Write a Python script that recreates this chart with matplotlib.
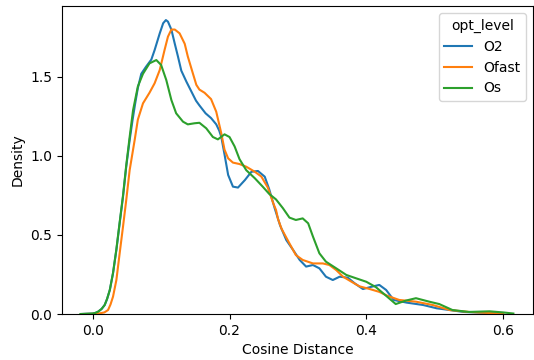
import matplotlib
matplotlib.use("Agg")
import matplotlib.pyplot as plt

# Cosine distance grid values and density values
o2_x = [-0.016, 0.0, 0.004, 0.008, 0.013, 0.0175, 0.021, 0.025, 0.0297, 0.0346, 0.0394, 0.0443,
        0.049, 0.054, 0.058, 0.062, 0.066, 0.071, 0.078, 0.0857, 0.0905, 0.098, 0.103, 0.107,
        0.11, 0.115, 0.12, 0.1246, 0.1295, 0.137, 0.144, 0.151, 0.156, 0.165, 0.173, 0.1806,
        0.185, 0.188, 0.1927, 0.198, 0.205, 0.2124, 0.2226, 0.232, 0.2416, 0.2515, 0.258,
        0.266, 0.274, 0.283, 0.293, 0.3026, 0.312, 0.322, 0.3314, 0.341, 0.351, 0.361, 0.373,
        0.383, 0.395, 0.41, 0.419, 0.429, 0.44, 0.459, 0.483, 0.503, 0.522, 0.542, 0.57, 0.6]
o2_y = [0.0, 0.003, 0.007, 0.015, 0.032, 0.057, 0.095, 0.152, 0.258, 0.405, 0.574, 0.742,
        0.932, 1.10, 1.22, 1.33, 1.43, 1.52, 1.565, 1.61, 1.67, 1.776, 1.84, 1.86,
        1.85, 1.80, 1.71, 1.63, 1.54, 1.47, 1.41, 1.35, 1.32, 1.27, 1.24, 1.20,
        1.16, 1.12, 1.01, 0.88, 0.806, 0.80, 0.848, 0.90, 0.905, 0.869, 0.79,
        0.67, 0.56, 0.468, 0.405, 0.342, 0.30, 0.31, 0.289, 0.236, 0.215, 0.236, 0.230,
        0.194, 0.158, 0.175, 0.184, 0.152, 0.089, 0.072, 0.057, 0.036, 0.025, 0.013, 0.008, 0.002]

ofast_x = [-0.012, 0.0, 0.01, 0.017, 0.0224, 0.026, 0.0297, 0.0346, 0.0394, 0.0443, 0.049,
           0.054, 0.0613, 0.066, 0.0735, 0.083, 0.0905, 0.098, 0.105, 0.11, 0.115,
           0.12, 0.127, 0.1345, 0.139, 0.1466, 0.1515, 0.156, 0.1635, 0.173, 0.1806, 0.188,
           0.1927, 0.198, 0.205, 0.2146, 0.2245, 0.237, 0.2465, 0.256, 0.264, 0.268, 0.271,
           0.276, 0.2876, 0.297, 0.307, 0.322, 0.3365, 0.346, 0.356, 0.366, 0.378, 0.39, 0.405,
           0.419, 0.431, 0.448, 0.4726, 0.497, 0.522, 0.55, 0.58, 0.6]
ofast_y = [0.0, 0.001, 0.004, 0.01, 0.025, 0.06, 0.11, 0.215, 0.384, 0.553, 0.72,
           0.91, 1.10, 1.23, 1.333, 1.40, 1.46, 1.544, 1.67, 1.755, 1.80,
           1.80, 1.776, 1.71, 1.63, 1.52, 1.45, 1.42, 1.40, 1.36, 1.28, 1.143,
           1.04, 0.985, 0.958, 0.949, 0.932, 0.90, 0.87, 0.80, 0.70, 0.658, 0.60,
           0.54, 0.447, 0.373, 0.342, 0.32, 0.32, 0.31, 0.278, 0.236, 0.205, 0.175, 0.158,
           0.14, 0.115, 0.089, 0.078, 0.057, 0.025, 0.013, 0.006, 0.002]

os_x = [-0.018, 0.0, 0.004, 0.008, 0.013, 0.0175, 0.021, 0.025, 0.0297, 0.0346, 0.0394, 0.0443,
        0.049, 0.054, 0.059, 0.066, 0.0735, 0.083, 0.093, 0.1, 0.1076, 0.115, 0.122, 0.132,
        0.139, 0.149, 0.156, 0.166, 0.1757, 0.183, 0.1927, 0.2, 0.2075, 0.2146, 0.2245, 0.237,
        0.2485, 0.258, 0.268, 0.278, 0.2876, 0.297, 0.307, 0.315, 0.322, 0.3314, 0.341, 0.356,
        0.3708, 0.385, 0.40, 0.414, 0.429, 0.443, 0.458, 0.4726, 0.492, 0.5066, 0.526, 0.55,
        0.58, 0.6, 0.615]
os_y = [0.0, 0.003, 0.007, 0.015, 0.032, 0.057, 0.095, 0.152, 0.26, 0.41, 0.58, 0.75,
        0.94, 1.12, 1.29, 1.44, 1.52, 1.586, 1.607, 1.576, 1.48, 1.354, 1.27, 1.217,
        1.20, 1.207, 1.21, 1.175, 1.12, 1.105, 1.137, 1.12, 1.06, 0.98, 0.91, 0.859,
        0.806, 0.76, 0.725, 0.67, 0.61, 0.595, 0.605, 0.574, 0.49, 0.384, 0.331, 0.289,
        0.247, 0.226, 0.204, 0.17, 0.115, 0.063, 0.085, 0.10, 0.078, 0.063, 0.025, 0.013,
        0.017, 0.01, 0.003]

series = [("O2", o2_x, o2_y, "#1f77b4"),
          ("Ofast", ofast_x, ofast_y, "#ff7f0e"),
          ("Os", os_x, os_y, "#2ca02c")]

fig = plt.figure(figsize=(5.34, 3.6), dpi=100)
ax = fig.add_axes([62 / 534, 46 / 360, 471 / 534, 308 / 360])

for name, xs, ys, col in series:
    ax.plot(xs, ys, color=col, lw=1.5, label=name, solid_joinstyle="round")

ax.set_xlim(-0.0449, 0.6437)
ax.set_ylim(0, 1.949)
ax.set_xticks([0.0, 0.2, 0.4, 0.6])
ax.set_yticks([0.0, 0.5, 1.0, 1.5])
ax.set_xlabel("Cosine Distance")
ax.set_ylabel("Density")
ax.legend(title="opt_level", loc="upper right")

fig.savefig("out.png", dpi=100)
